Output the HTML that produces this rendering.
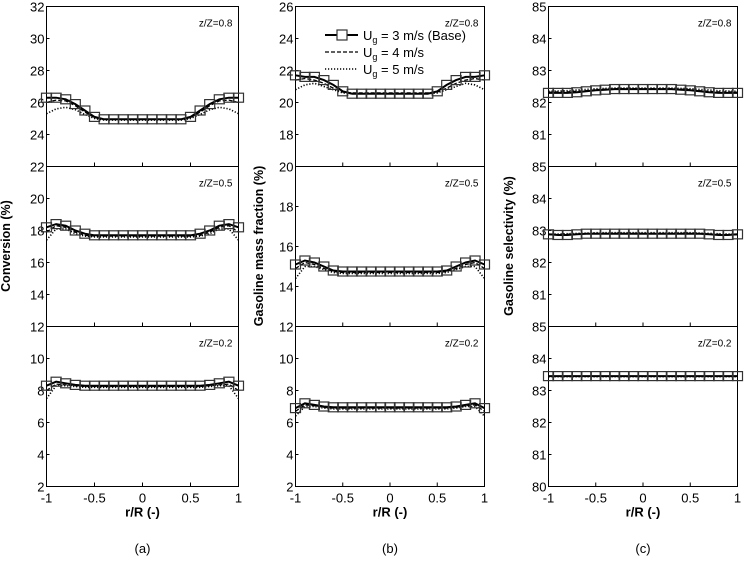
<!DOCTYPE html>
<html><head><meta charset="utf-8"><style>
body{margin:0;background:#fff;width:744px;height:558px;overflow:hidden;font-family:"Liberation Sans",sans-serif}
svg text{font-family:"Liberation Sans",sans-serif}
</style></head><body>
<svg id="c" width="744" height="558"></svg>
<script>
const xs=[-1,-0.9,-0.8,-0.7,-0.6,-0.5,-0.4,-0.3,-0.2,-0.1,0,0.1,0.2,0.3,0.4,0.5,0.6,0.7,0.8,0.9,1];
const xTicks=[-1,-0.5,0,0.5,1];
const xTickLabels=["-1","-0.5","0","0.5","1"];
const zLabels=["z/Z=0.8","z/Z=0.5","z/Z=0.2"];
const aRanges=[[22,32],[12,22],[2,12]];
const aTicks=[[22,24,26,28,30,32],[12,14,16,18,20],[2,4,6,8,10]];
const bRanges=[[16,26],[12,20],[2,12]];
const bTicks=[[18,20,22,24,26],[12,14,16,18,20],[2,4,6,8,10]];
const cRanges=[[80,85],[80,85],[80,85]];
const cTicks=[[81,82,83,84,85],[81,82,83,84,85],[80,81,82,83,84,85]];
// conversion
const a8Base=[26.3,26.3,26.2,25.9,25.5,25.1,24.95,24.95,24.95,24.95,24.95,24.95,24.95,24.95,24.95,25.1,25.5,25.9,26.2,26.3,26.3];
const a8U4=[26.0,26.15,26.1,25.8,25.4,25.05,24.95,24.95,24.95,24.95,24.95,24.95,24.95,24.95,24.95,25.05,25.4,25.8,26.1,26.15,26.0];
const a8U5=[25.3,25.6,25.7,25.55,25.25,25.0,24.9,24.9,24.9,24.9,24.9,24.9,24.9,24.9,24.9,25.0,25.25,25.55,25.7,25.6,25.3];
const a5Base=[18.2,18.4,18.3,18.0,17.8,17.7,17.7,17.7,17.7,17.7,17.7,17.7,17.7,17.7,17.7,17.7,17.8,18.0,18.3,18.4,18.2];
const a5U4=[17.9,18.3,18.2,17.9,17.7,17.65,17.65,17.65,17.65,17.65,17.65,17.65,17.65,17.65,17.65,17.65,17.7,17.9,18.2,18.3,17.9];
const a5U5=[17.4,18.1,18.1,17.8,17.65,17.6,17.6,17.6,17.6,17.6,17.6,17.6,17.6,17.6,17.6,17.6,17.65,17.8,18.1,18.1,17.4];
const a2Base=[8.3,8.55,8.45,8.35,8.3,8.3,8.3,8.3,8.3,8.3,8.3,8.3,8.3,8.3,8.3,8.3,8.3,8.35,8.45,8.55,8.3];
const a2U4=[8.0,8.4,8.35,8.3,8.25,8.25,8.25,8.25,8.25,8.25,8.25,8.25,8.25,8.25,8.25,8.25,8.25,8.3,8.35,8.4,8.0];
const a2U5=[7.5,8.3,8.3,8.25,8.2,8.2,8.2,8.2,8.2,8.2,8.2,8.2,8.2,8.2,8.2,8.2,8.2,8.25,8.3,8.3,7.5];
// gasoline mass fraction
const b8Base=[21.7,21.6,21.6,21.4,21.1,20.7,20.55,20.55,20.55,20.55,20.55,20.55,20.55,20.55,20.55,20.7,21.1,21.4,21.6,21.6,21.7];
const b8U4=[21.4,21.5,21.4,21.2,20.9,20.65,20.6,20.6,20.6,20.6,20.6,20.6,20.6,20.6,20.6,20.65,20.9,21.2,21.4,21.5,21.4];
const b8U5=[20.8,21.1,21.2,21.0,20.8,20.6,20.55,20.55,20.55,20.55,20.55,20.55,20.55,20.55,20.55,20.6,20.8,21.0,21.2,21.1,20.8];
const b5Base=[15.1,15.3,15.2,15.0,14.8,14.75,14.75,14.75,14.75,14.75,14.75,14.75,14.75,14.75,14.75,14.75,14.8,15.0,15.2,15.3,15.1];
const b5U4=[14.9,15.2,15.1,14.9,14.75,14.7,14.7,14.7,14.7,14.7,14.7,14.7,14.7,14.7,14.7,14.7,14.75,14.9,15.1,15.2,14.9];
const b5U5=[14.4,15.0,15.0,14.85,14.7,14.65,14.65,14.65,14.65,14.65,14.65,14.65,14.65,14.65,14.65,14.65,14.7,14.85,15.0,15.0,14.4];
const b2Base=[6.9,7.2,7.1,7.0,6.95,6.95,6.95,6.95,6.95,6.95,6.95,6.95,6.95,6.95,6.95,6.95,6.95,7.0,7.1,7.2,6.9];
const b2U4=[6.7,7.1,7.05,6.95,6.9,6.9,6.9,6.9,6.9,6.9,6.9,6.9,6.9,6.9,6.9,6.9,6.9,6.95,7.05,7.1,6.7];
const b2U5=[6.4,7.0,7.0,6.9,6.85,6.85,6.85,6.85,6.85,6.85,6.85,6.85,6.85,6.85,6.85,6.85,6.85,6.9,7.0,7.0,6.4];
// gasoline selectivity
const c8Base=[82.3,82.3,82.3,82.32,82.35,82.38,82.4,82.42,82.42,82.42,82.42,82.42,82.42,82.42,82.4,82.38,82.35,82.32,82.3,82.3,82.3];
const c8U4=[82.32,82.33,82.33,82.35,82.37,82.4,82.42,82.43,82.43,82.43,82.43,82.43,82.43,82.43,82.42,82.4,82.37,82.35,82.33,82.33,82.32];
const c8U5=[82.35,82.36,82.37,82.39,82.41,82.43,82.44,82.45,82.45,82.45,82.45,82.45,82.45,82.45,82.44,82.43,82.41,82.39,82.37,82.36,82.35];
const c5Base=[82.88,82.86,82.86,82.88,82.9,82.9,82.9,82.9,82.9,82.9,82.9,82.9,82.9,82.9,82.9,82.9,82.9,82.88,82.86,82.86,82.88];
const c5U4=[82.87,82.87,82.88,82.89,82.9,82.91,82.91,82.91,82.91,82.91,82.91,82.91,82.91,82.91,82.91,82.91,82.9,82.89,82.88,82.87,82.87];
const c5U5=[82.88,82.89,82.9,82.91,82.92,82.93,82.93,82.93,82.93,82.93,82.93,82.93,82.93,82.93,82.93,82.93,82.92,82.91,82.9,82.89,82.88];
const c2Base=[83.45,83.45,83.45,83.45,83.45,83.45,83.45,83.45,83.45,83.45,83.45,83.45,83.45,83.45,83.45,83.45,83.45,83.45,83.45,83.45,83.45];
const c2U4=[83.44,83.44,83.44,83.44,83.44,83.44,83.44,83.44,83.44,83.44,83.44,83.44,83.44,83.44,83.44,83.44,83.44,83.44,83.44,83.44,83.44];
const c2U5=[83.43,83.43,83.43,83.43,83.43,83.43,83.43,83.43,83.43,83.43,83.43,83.43,83.43,83.43,83.43,83.43,83.43,83.43,83.43,83.43,83.43];

const NS="http://www.w3.org/2000/svg";
const svg=document.getElementById('c');
function mk(tag,attrs,parent,text){const e=document.createElementNS(NS,tag);for(const k in attrs)e.setAttribute(k,attrs[k]);if(text!==undefined)e.textContent=text;(parent||svg).appendChild(e);return e;}
const tops=[6.5,166.5,326.5],PH=160;
const cols=[
 {id:'a',x0:46.5,x1:238.5,ranges:aRanges,ticks:aTicks,data:[[a8Base,a8U4,a8U5],[a5Base,a5U4,a5U5],[a2Base,a2U4,a2U5]],ylab:'Conversion (%)',ylx:10,cap:'(a)'},
 {id:'b',x0:295.5,x1:484.5,ranges:bRanges,ticks:bTicks,data:[[b8Base,b8U4,b8U5],[b5Base,b5U4,b5U5],[b2Base,b2U4,b2U5]],ylab:'Gasoline mass fraction (%)',ylx:263,cap:'(b)'},
 {id:'c',x0:548.5,x1:737.5,ranges:cRanges,ticks:cTicks,data:[[c8Base,c8U4,c8U5],[c5Base,c5U4,c5U5],[c2Base,c2U4,c2U5]],ylab:'Gasoline selectivity (%)',ylx:513,cap:'(c)'}
];
const styles=[{w:2,d:''},{w:1.3,d:'4,2'},{w:1.6,d:'1.2,1.8'}];
cols.forEach(col=>{
 const g=mk('g',{});
 
 
 const sx=v=>col.x0+(v+1)/2*(col.x1-col.x0);
 col.ranges.forEach((r,i)=>{
  const t=tops[i];
  const sy=v=>t+PH-(v-r[0])/(r[1]-r[0])*PH;
  const sg=mk('g',{},g);
  
  
  const fr=mk('rect',{x:col.x0,y:t,width:col.x1-col.x0,height:PH,fill:'none',stroke:'#000','stroke-width':1},sg);
  
  
  col.ticks[i].forEach(v=>{
   mk('line',{x1:col.x0,x2:col.x0+3,y1:sy(v),y2:sy(v),stroke:'#000'},sg);
   const tl=mk('text',{x:col.x0-2,y:sy(v)+5,'text-anchor':'end','font-size':13},sg,String(v));
   
   
  });
  xTicks.forEach(v=>{mk('line',{x1:sx(v),x2:sx(v),y1:t+PH,y2:t+PH-4,stroke:'#000'},sg);});
  const zl=mk('text',{x:col.x1-6,y:t+20,'text-anchor':'end','font-size':10},sg,zLabels[i]);
  
  
  col.data[i].forEach((ser,si)=>{
   const pts=xs.map((x,k)=>sx(x).toFixed(1)+','+sy(ser[k]).toFixed(1)).join(' ');
   const pl=mk('polyline',{points:pts,fill:'none',stroke:'#000','stroke-width':styles[si].w,'stroke-dasharray':styles[si].d},sg);
   
   
  });
  xs.forEach((x,k)=>{
   const sq=mk('rect',{x:sx(x)-5,y:sy(col.data[i][0][k])-4.5,width:10,height:9,fill:'none',stroke:'#333','stroke-width':1.2},sg);
   
   
  });
 });
 const bot=tops[2]+PH;
 xTicks.forEach((v,k)=>{
  const xl=mk('text',{x:sx(v),y:bot+16,'text-anchor':'middle','font-size':13},g,xTickLabels[k]);
  
  
 });
 const xt=mk('text',{x:(col.x0+col.x1)/2,y:bot+30,'text-anchor':'middle','font-size':13,'font-weight':'bold'},g,'r/R (-)');
 
 
 const cy=246;
 const yt=mk('text',{x:col.ylx,y:cy,'text-anchor':'middle','font-size':12.5,'font-weight':'bold',transform:`rotate(-90 ${col.ylx} ${cy})`},g,col.ylab);
 
 
 const cp=mk('text',{x:(col.x0+col.x1)/2,y:553,'text-anchor':'middle','font-size':13},g,col.cap);
 
 
});
// legend
const lg=mk('g',{});


const legTxt=[['3 m/s (Base)'],['4 m/s'],['5 m/s']];
legTxt.forEach((t,i)=>{
 const y=35+i*17;
 mk('line',{x1:325,x2:358,y1:y,y2:y,stroke:'#000','stroke-width':styles[i].w,'stroke-dasharray':styles[i].d},lg);
 if(i===0)mk('rect',{x:337,y:y-5,width:10,height:10,fill:'#fff',stroke:'#333','stroke-width':1.2},lg);
 const tx=mk('text',{x:363,y:y+5,'font-size':13},lg);
 
 
 mk('tspan',{},tx,'U');
 mk('tspan',{'font-size':9,dy:3},tx,'g');
 mk('tspan',{dy:-3},tx,' = '+t[0]);
});
</script>
</body></html>
